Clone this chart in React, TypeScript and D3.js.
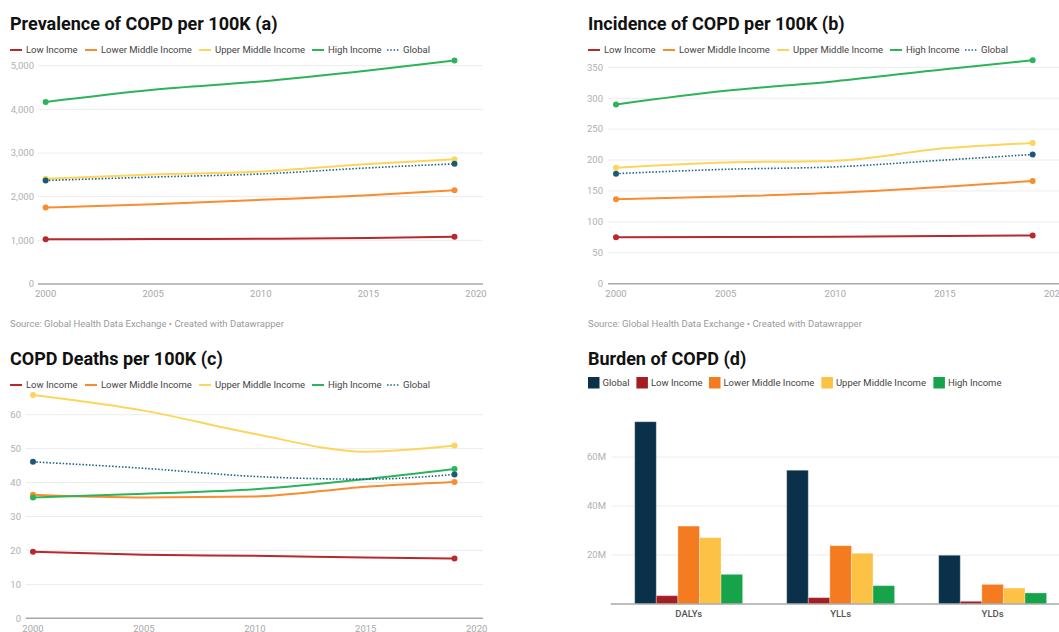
import { useMemo } from "react";
import * as d3 from "d3";

// ---- data ----
const years = [2000, 2005, 2010, 2015, 2019];
const seriesNames = [
  "Low Income",
  "Lower Middle Income",
  "Upper Middle Income",
  "High Income",
  "Global",
];

// (a) prevalence per 100K
const prevLow = [1025, 1030, 1035, 1055, 1085];
const prevLowerMid = [1750, 1827, 1927, 2034, 2149];
const prevUpperMid = [2408, 2507, 2576, 2750, 2860];
const prevHigh = [4170, 4450, 4640, 4890, 5120];
const prevGlobal = [2370, 2450, 2520, 2660, 2752];
const prevTicks = [0, 1000, 2000, 3000, 4000, 5000];

// (b) incidence per 100K
const incLow = [75, 75.5, 76, 77, 78];
const incLowerMid = [136.5, 141, 147, 157, 166];
const incUpperMid = [187.7, 196, 199, 219, 227.6];
const incHigh = [290, 312, 327.5, 347, 361.5];
const incGlobal = [178, 185, 189, 200, 209];
const incTicks = [0, 50, 100, 150, 200, 250, 300, 350];

// (c) deaths per 100K
const deathLow = [19.6, 18.7, 18.4, 17.9, 17.6];
const deathLowerMid = [36.4, 35.6, 35.9, 38.8, 40.2];
const deathUpperMid = [65.8, 61.2, 54.3, 49.1, 50.9];
const deathHigh = [35.6, 36.7, 38, 41, 44];
const deathGlobal = [46.1, 44.2, 41.8, 41, 42.4];
const deathTicks = [0, 10, 20, 30, 40, 50, 60];

const yearTicks = [2000, 2005, 2010, 2015, 2020];

// (d) burden
const burdenCategories = ["DALYs", "YLLs", "YLDs"];
const burdenSeries = [
  "Global",
  "Low Income",
  "Lower Middle Income",
  "Upper Middle Income",
  "High Income",
];
const burdenGlobal = [74.4e6, 54.6e6, 19.9e6];
const burdenLow = [3.4e6, 2.6e6, 1.1e6];
const burdenLowerMid = [31.8e6, 23.8e6, 8.0e6];
const burdenUpperMid = [27.1e6, 20.7e6, 6.5e6];
const burdenHigh = [12.1e6, 7.5e6, 4.5e6];
const burdenTicks = [20e6, 40e6, 60e6];

// ---- styles ----
const lineColors = ["#b8282c", "#f98c2f", "#fdd55c", "#2db35a", "#1d5f80"];
const barColors = ["#0b3049", "#a31d22", "#f47b20", "#fcc145", "#16a34a"];
const FONT = "Roboto, 'Noto Sans', sans-serif";
const legendOffsets = [0, 75, 189, 302, 377];
const barLegendOffsets = [0, 48.4, 121, 233.4, 345.4];

type LinePanelProps = {
  title: string;
  titleY: number;
  left: number;
  legendY: number;
  gridX: [number, number];
  xRange: [number, number];
  yRange: [number, number];
  yMax: number;
  yTicks: number[];
  labelRight: number;
  xLabelY: number;
  series: number[][];
  source?: number;
};

function LinePanel(p: LinePanelProps) {
  const x = useMemo(
    () => d3.scaleLinear().domain([2000, 2020]).range(p.xRange),
    [p.xRange],
  );
  const y = useMemo(
    () => d3.scaleLinear().domain([0, p.yMax]).range(p.yRange),
    [p.yMax, p.yRange],
  );
  const line = d3
    .line<number>()
    .x((_, i) => x(years[i]))
    .y((v) => y(v))
    .curve(d3.curveMonotoneX);
  const fmt = d3.format(",");

  return (
    <g fontFamily={FONT}>
      <text x={p.left} y={p.titleY} fontSize={18} fontWeight={700} fill="#111">
        {p.title}
      </text>
      {/* legend */}
      {seriesNames.map((name, i) => {
        const lx = p.left + legendOffsets[i];
        const global = i === 4;
        return (
          <g key={name}>
            <line
              x1={lx}
              x2={lx + 12}
              y1={p.legendY}
              y2={p.legendY}
              stroke={lineColors[i]}
              strokeWidth={global ? 1.6 : 2}
              strokeDasharray={global ? "1.5 1.8" : undefined}
            />
            <text
              x={lx + 16}
              y={p.legendY}
              dy="0.35em"
              fontSize={9.5}
              fill="#444"
            >
              {name}
            </text>
          </g>
        );
      })}
      {/* grid + y labels */}
      {p.yTicks.map((t) => (
        <g key={t}>
          {t !== 0 && (
            <line
              x1={p.gridX[0]}
              x2={p.gridX[1]}
              y1={y(t)}
              y2={y(t)}
              stroke="#ececec"
            />
          )}
          <text
            x={p.labelRight}
            y={y(t)}
            dy="0.35em"
            textAnchor="end"
            fontSize={9.5}
            fill="#b0b0b0"
          >
            {fmt(t)}
          </text>
        </g>
      ))}
      <line
        x1={p.gridX[0]}
        x2={p.gridX[1]}
        y1={y(0)}
        y2={y(0)}
        stroke="#a8a8a8"
        strokeWidth={1.6}
      />
      {yearTicks.map((t) => (
        <text
          key={t}
          x={x(t)}
          y={p.xLabelY}
          dy="0.35em"
          textAnchor="middle"
          fontSize={9.5}
          fill="#a8a8a8"
        >
          {t}
        </text>
      ))}
      {/* lines */}
      {p.series.map((vals, i) => {
        const global = i === 4;
        return (
          <g key={i}>
            <path
              d={line(vals) ?? ""}
              fill="none"
              stroke={lineColors[i]}
              strokeWidth={global ? 1.6 : 2}
              strokeDasharray={global ? "1.5 1.8" : undefined}
            />
            {[0, vals.length - 1].map((j) => (
              <circle
                key={j}
                cx={x(years[j])}
                cy={y(vals[j])}
                r={3}
                fill={global ? "#1a5a78" : lineColors[i]}
              />
            ))}
          </g>
        );
      })}
      {p.source !== undefined && (
        <text
          x={p.left}
          y={p.source}
          dy="0.35em"
          fontSize={9.5}
          fill="#9a9a9a"
        >
          Source: Global Health Data Exchange • Created with Datawrapper
        </text>
      )}
    </g>
  );
}

function BarPanel() {
  const left = 588;
  const series = [
    burdenGlobal,
    burdenLow,
    burdenLowerMid,
    burdenUpperMid,
    burdenHigh,
  ];
  const x0 = d3
    .scaleBand()
    .domain(burdenCategories)
    .range([610.7, 1070.6])
    .paddingInner(0.29)
    .paddingOuter(0.158);
  const x1 = d3
    .scaleBand()
    .domain(burdenSeries)
    .range([0, x0.bandwidth()]);
  const y = d3.scaleLinear().domain([0, 60e6]).range([604, 457]);

  return (
    <g fontFamily={FONT}>
      <text x={left} y={365} fontSize={18} fontWeight={700} fill="#111">
        Burden of COPD (d)
      </text>
      {burdenSeries.map((name, i) => {
        const lx = left + barLegendOffsets[i];
        return (
          <g key={name}>
            <rect
              x={lx}
              y={377}
              width={11.5}
              height={11.5}
              fill={barColors[i]}
            />
            <text
              x={lx + 14.5}
              y={382.8}
              dy="0.35em"
              fontSize={9.5}
              fill="#444"
            >
              {name}
            </text>
          </g>
        );
      })}
      {burdenTicks.map((t) => (
        <g key={t}>
          <line x1={611.5} x2={1059} y1={y(t)} y2={y(t)} stroke="#ececec" />
          <text
            x={587}
            y={y(t)}
            dy="0.35em"
            fontSize={9.5}
            fill="#b0b0b0"
          >
            {d3.format("~s")(t)}
          </text>
        </g>
      ))}
      {burdenCategories.map((cat, ci) => (
        <g key={cat} transform={`translate(${x0(cat)},0)`}>
          {burdenSeries.map((s, si) => (
            <rect
              key={s}
              x={x1(s)}
              y={y(series[si][ci])}
              width={x1.bandwidth()}
              height={y(0) - y(series[si][ci])}
              fill={barColors[si]}
              stroke="rgba(255,255,255,0.3)"
              strokeWidth={1}
            />
          ))}
          <text
            x={x0.bandwidth() / 2}
            y={614}
            dy="0.35em"
            textAnchor="middle"
            fontSize={9.5}
            fontWeight={500}
            fill="#555"
          >
            {cat}
          </text>
        </g>
      ))}
      <line
        x1={610.7}
        x2={1059}
        y1={y(0)}
        y2={y(0)}
        stroke="#a8a8a8"
        strokeWidth={1.6}
      />
    </g>
  );
}

export default function App() {
  return (
    <svg
      width={1059}
      height={632}
      style={{ position: "absolute", left: 0, top: 0, background: "#fff" }}
    >
      <LinePanel
        title="Prevalence of COPD per 100K (a)"
        titleY={29.5}
        left={10}
        legendY={50}
        gridX={[38, 483]}
        xRange={[45.6, 476]}
        yRange={[284, 65.7]}
        yMax={5000}
        yTicks={prevTicks}
        labelRight={34}
        xLabelY={294}
        series={[prevLow, prevLowerMid, prevUpperMid, prevHigh, prevGlobal]}
        source={323.3}
      />
      <LinePanel
        title="Incidence of COPD per 100K (b)"
        titleY={29.5}
        left={588}
        legendY={50}
        gridX={[608, 1059]}
        xRange={[616, 1054.6]}
        yRange={[283.7, 67.3]}
        yMax={350}
        yTicks={incTicks}
        labelRight={603}
        xLabelY={294}
        series={[incLow, incLowerMid, incUpperMid, incHigh, incGlobal]}
        source={323.3}
      />
      <LinePanel
        title="COPD Deaths per 100K (c)"
        titleY={365}
        left={10}
        legendY={385}
        gridX={[25.7, 483]}
        xRange={[33, 476.7]}
        yRange={[618.3, 414.7]}
        yMax={60}
        yTicks={deathTicks}
        labelRight={21}
        xLabelY={628.5}
        series={[
          deathLow,
          deathLowerMid,
          deathUpperMid,
          deathHigh,
          deathGlobal,
        ]}
      />
      <BarPanel />
    </svg>
  );
}
